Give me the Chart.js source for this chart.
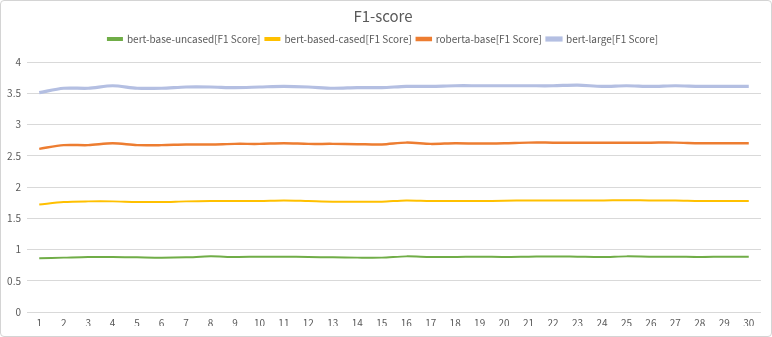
<!DOCTYPE html>
<html>
<head>
<meta charset="utf-8">
<script src="https://cdn.jsdelivr.net/npm/chart.js@4"></script>
<style>
  html, body { margin: 0; padding: 0; background: #fff; }
  #wrap {
    position: relative;
    width: 772px; height: 337px;
    box-sizing: border-box;
    border: 1px solid #d4d4d4;
    border-radius: 4px;
    overflow: hidden;
  }
  #f1Chart { display: block; }
</style>
</head>
<body>
<div id="wrap">
  <canvas id="f1Chart" width="770" height="335"></canvas>
</div>
<script>
// epochs on the x axis
const epochs = [1,2,3,4,5,6,7,8,9,10,11,12,13,14,15,16,17,18,19,20,21,22,23,24,25,26,27,28,29,30];

// values as plotted (the chart stacks the lines)
const bertBaseUncased = [0.86,0.87,0.88,0.88,0.875,0.87,0.875,0.89,0.88,0.885,0.885,0.88,0.875,0.87,0.87,0.89,0.88,0.88,0.885,0.88,0.885,0.89,0.885,0.88,0.89,0.885,0.885,0.88,0.885,0.885];
const bertBasedCased = [1.72,1.76,1.77,1.77,1.76,1.76,1.77,1.775,1.775,1.775,1.785,1.775,1.765,1.765,1.765,1.785,1.775,1.775,1.775,1.78,1.785,1.785,1.785,1.785,1.79,1.785,1.785,1.775,1.775,1.775];
const robertaBase = [2.61,2.67,2.67,2.70,2.67,2.67,2.68,2.68,2.69,2.69,2.70,2.69,2.69,2.685,2.68,2.71,2.69,2.70,2.695,2.70,2.71,2.71,2.71,2.71,2.71,2.71,2.71,2.70,2.70,2.70];
const bertLarge = [3.51,3.58,3.58,3.62,3.58,3.58,3.60,3.60,3.59,3.60,3.61,3.60,3.58,3.59,3.59,3.61,3.61,3.62,3.62,3.62,3.62,3.62,3.63,3.61,3.62,3.61,3.62,3.61,3.61,3.61];

const yTicks = [0, 0.5, 1, 1.5, 2, 2.5, 3, 3.5, 4];

const FONT = '"Noto Sans CJK JP", "Noto Sans", sans-serif';
const TEXT = '#595959';

function line(label, data, color, width) {
    return {
        label: label,
        data: data,
        borderColor: color,
        backgroundColor: color,
        borderWidth: width,
        pointRadius: 0,
        tension: 0.3,
        fill: false
    };
}

// extra room between the legend and the plot
const legendGap = {
    id: 'legendGap',
    beforeInit(chart) {
        const fit = chart.legend.fit;
        chart.legend.fit = function () {
            fit.bind(chart.legend)();
            this.height += 8;
        };
    }
};

const ctx = document.getElementById('f1Chart').getContext('2d');
const f1Chart = new Chart(ctx, {
    type: 'line',
    data: {
        labels: epochs,
        datasets: [
            line('bert-base-uncased[F1 Score]', bertBaseUncased, '#70AD47', 2),
            line('bert-based-cased[F1 Score]', bertBasedCased, '#FFC000', 2),
            line('roberta-base[F1 Score]', robertaBase, '#ED7D31', 2.5),
            line('bert-large[F1 Score]', bertLarge, '#B4BFE2', 3.2)
        ]
    },
    plugins: [legendGap],
    options: {
        responsive: false,
        animation: false,
        layout: { padding: { left: 4, right: 10, top: 4, bottom: 10 } },
        plugins: {
            title: {
                display: true,
                text: 'F1-score',
                color: TEXT,
                font: { family: FONT, size: 15, weight: 'normal' },
                padding: { top: 2, bottom: 4 }
            },
            legend: {
                position: 'top',
                labels: {
                    color: TEXT,
                    font: { family: FONT, size: 10 },
                    boxWidth: 14,
                    boxHeight: 2,
                    padding: 5
                }
            },
            tooltip: { enabled: false }
        },
        scales: {
            x: {
                offset: true,
                grid: { display: false },
                border: { display: false },
                ticks: {
                    color: TEXT,
                    font: { family: FONT, size: 10 },
                    maxRotation: 0,
                    autoSkip: false,
                    padding: -3
                }
            },
            y: {
                min: 0,
                max: 4,
                afterBuildTicks: axis => { axis.ticks = yTicks.map(v => ({ value: v })); },
                afterFit: axis => { axis.width = 22; },
                grid: { color: '#d9d9d9', drawTicks: false },
                border: { display: false },
                ticks: {
                    color: TEXT,
                    font: { family: FONT, size: 10 },
                    padding: 6,
                    callback: v => String(v)
                }
            }
        }
    }
});
</script>
</body>
</html>
